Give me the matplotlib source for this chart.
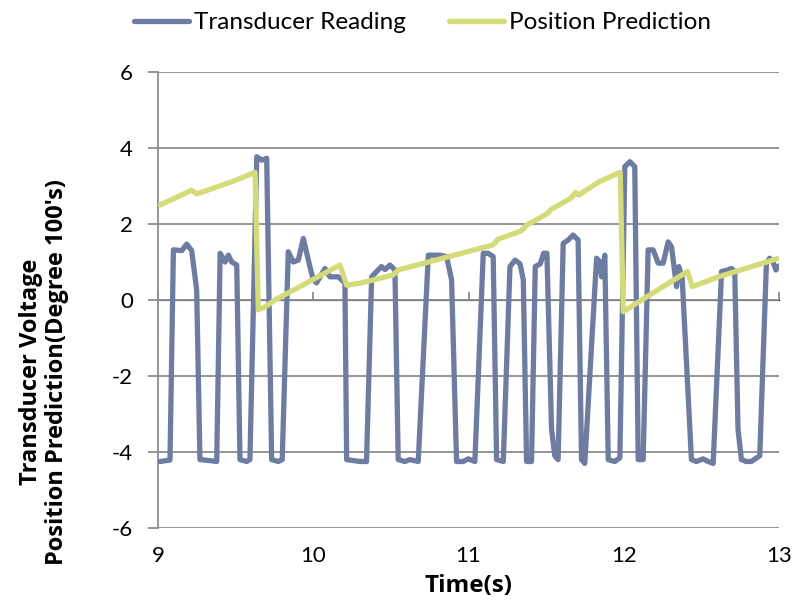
import matplotlib
matplotlib.use("Agg")
import matplotlib.pyplot as plt

# transducer reading (volts) vs time (s)
t_reading = [9.013, 9.077, 9.099, 9.153, 9.185, 9.217, 9.249, 9.27, 9.32, 9.378,
             9.40, 9.432, 9.453, 9.475, 9.507, 9.528, 9.571, 9.592, 9.636, 9.668,
             9.700, 9.732, 9.775, 9.80, 9.839, 9.871, 9.904, 9.936, 9.978, 10.0,
             10.021, 10.075, 10.107, 10.161, 10.204, 10.215, 10.30, 10.343, 10.376,
             10.408, 10.44, 10.462, 10.494, 10.526, 10.547, 10.59, 10.622, 10.676,
             10.741, 10.784, 10.816, 10.859, 10.891, 10.923, 10.966, 10.998, 11.041,
             11.095, 11.127, 11.159, 11.181, 11.224, 11.267, 11.30, 11.332, 11.353,
             11.374, 11.406, 11.43, 11.462, 11.484, 11.505, 11.535, 11.556, 11.577,
             11.61, 11.642, 11.674, 11.706, 11.728, 11.749, 11.825, 11.846, 11.857,
             11.878, 11.90, 11.943, 11.975, 12.007, 12.039, 12.071, 12.093, 12.125,
             12.157, 12.189, 12.222, 12.254, 12.286, 12.308, 12.329, 12.340, 12.355,
             12.376, 12.436, 12.468, 12.511, 12.543, 12.576, 12.63, 12.662, 12.694,
             12.715, 12.736, 12.758, 12.79, 12.822, 12.876, 12.919, 12.94, 12.962,
             12.98, 13.0]
v_reading = [-4.25, -4.21, 1.32, 1.3, 1.47, 1.3, 0.26, -4.2, -4.22, -4.25,
             1.23, 1.0, 1.18, 1.0, 0.92, -4.2, -4.25, -4.2, 3.77, 3.68,
             3.73, -4.2, -4.25, -4.2, 1.27, 1.0, 1.05, 1.62, 0.88, 0.53,
             0.45, 0.83, 0.61, 0.61, 0.45, -4.2, -4.25, -4.25, 0.61,
             0.75, 0.88, 0.8, 0.92, 0.79, -4.2, -4.25, -4.2, -4.25,
             1.18, 1.18, 1.18, 1.14, 0.53, -4.25, -4.25, -4.18, -4.25,
             1.23, 1.23, 1.14, -4.2, -4.25, 0.88, 1.05, 0.95, 0.53,
             -4.25, -4.25, 0.88, 0.95, 1.23, 1.23, -3.4, -4.1, -4.2,
             1.49, 1.58, 1.71, 1.58, -4.2, -4.3, 1.1, 1.0, 0.61,
             1.18, -4.2, -4.25, -4.15, 3.51, 3.64, 3.51, -4.2, -4.2,
             1.32, 1.32, 0.97, 0.97, 1.53, 1.4, 0.70, 0.35, 0.88,
             0.61, -4.2, -4.25, -4.18, -4.25, -4.3, 0.75, 0.78, 0.83,
             0.75, -3.4, -4.2, -4.25, -4.25, -4.1, 0.97, 1.1, 1.0,
             0.79, 0.9]

# position prediction (degree/100) vs time (s)
t_pred = [9.013, 9.217, 9.249, 9.507, 9.625, 9.646, 9.69, 9.753, 10.172, 10.215,
          10.30, 10.515, 10.547, 11.159, 11.19, 11.342, 11.374, 11.503, 11.535,
          11.66, 11.69, 11.71, 11.84, 11.977, 11.997, 12.08, 12.41, 12.442,
          12.61, 13.0]
p_pred = [2.5, 2.89, 2.79, 3.16, 3.36, -0.26, -0.18, 0.0, 0.92, 0.39,
          0.44, 0.66, 0.79, 1.45, 1.6, 1.82, 1.97, 2.26, 2.39,
          2.68, 2.83, 2.76, 3.11, 3.36, -0.31, -0.09, 0.75, 0.35,
          0.61, 1.1]

x_ticks = [9, 10, 11, 12, 13]
y_ticks = [-6, -4, -2, 0, 2, 4, 6]

blue = '#6f7ca2'
green = '#d4dc7a'
grid = '#8c8c8c'
bold_font = ['Open Sans', 'DejaVu Sans']

plt.rcParams['font.family'] = ['Lato', 'DejaVu Sans']

fig = plt.figure(figsize=(8.03, 6.06), dpi=100)
ax = fig.add_axes([0.1968, 0.1287, 0.7733, 0.7525])

ax.plot(t_reading, v_reading, color=blue, linewidth=3.8, solid_joinstyle='round',
        solid_capstyle='round', label='Transducer Reading', zorder=3)
ax.plot(t_pred, p_pred, color=green, linewidth=3.8, solid_joinstyle='round',
        solid_capstyle='round', label='Position Prediction', zorder=4)

ax.set_xlim(9, 13)
ax.set_ylim(-6, 6)
ax.set_xticks(x_ticks)
ax.set_yticks(y_ticks)
ax.set_xticklabels([str(v) for v in x_ticks])
ax.set_yticklabels([str(v) for v in y_ticks])

for sp in ['top', 'right', 'bottom']:
    ax.spines[sp].set_visible(False)
ax.spines['left'].set_color(grid)
ax.spines['left'].set_linewidth(1.3)

ax.yaxis.grid(True, color=grid, linewidth=1.3)
ax.set_axisbelow(True)
ax.tick_params(axis='y', length=7, width=1.3, color=grid, labelsize=16, pad=11)
ax.tick_params(axis='x', length=0, labelsize=16, pad=13)

# horizontal axis crosses at zero, with its tick marks there
sec = ax.secondary_xaxis(0.5)
sec.set_xticks(x_ticks)
sec.set_xticklabels([])
sec.tick_params(length=6, width=1.3, color=grid)
sec.spines['bottom'].set_color(grid)
sec.spines['bottom'].set_linewidth(1.3)

ax.set_xlabel('Time(s)', fontsize=17.5, fontweight='bold', family=bold_font)
ax.xaxis.set_label_coords(0.5, -0.1)

fig.text(44 / 803, 1 - 372 / 606, "Transducer Voltage\nPosition Prediction(Degree 100's)",
         rotation=90, ha='center', va='center', fontsize=17, fontweight='bold',
         family=bold_font, linespacing=1.15)

fig.legend(loc='upper left', bbox_to_anchor=(134 / 803, 1 - 12 / 606), ncol=2,
           frameon=False, fontsize=17.5, handlelength=2.25, handletextpad=0.2,
           columnspacing=1.8, borderpad=0, borderaxespad=0)

fig.savefig('out.png', dpi=100)
